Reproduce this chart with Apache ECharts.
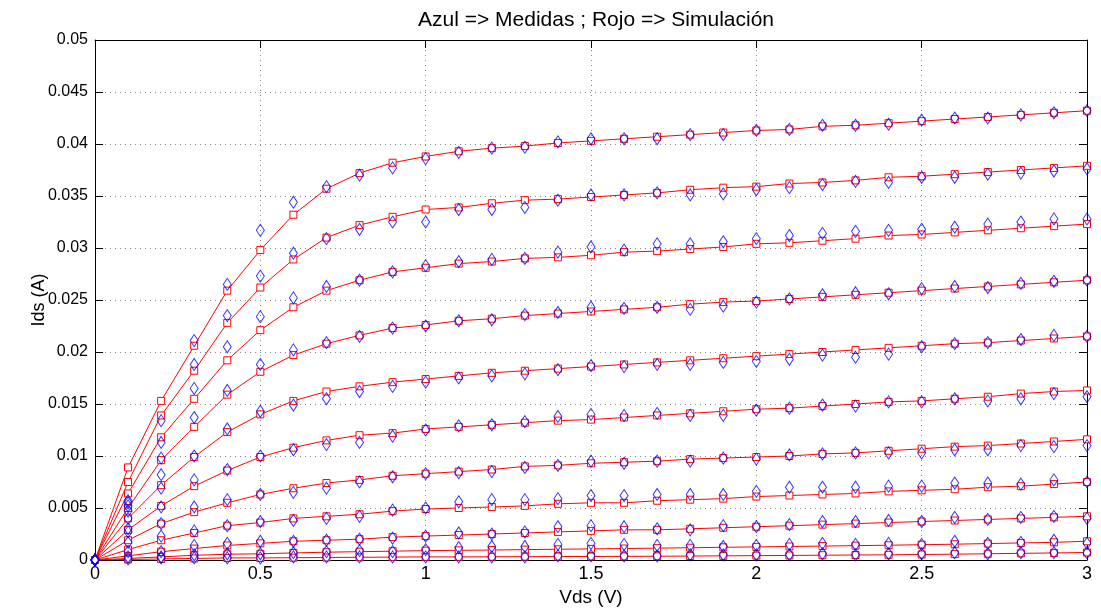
<!DOCTYPE html>
<html>
<head>
<meta charset="utf-8">
<script src="https://cdn.jsdelivr.net/npm/echarts@6/dist/echarts.min.js"></script>
<style>
  html, body { margin: 0; padding: 0; background: #fff; }
  #chart { width: 1101px; height: 615px; }
</style>
</head>
<body>
<div id="chart"></div>
<script>
// Drain-source voltage sweep (V)
var vds = [0, 0.1, 0.2, 0.3, 0.4, 0.5, 0.6, 0.7, 0.8, 0.9, 1.0, 1.1, 1.2, 1.3, 1.4, 1.5,
           1.6, 1.7, 1.8, 1.9, 2.0, 2.1, 2.2, 2.3, 2.4, 2.5, 2.6, 2.7, 2.8, 2.9, 3.0];

var xTicks = [0, 0.5, 1, 1.5, 2, 2.5, 3];
var yTickLabels = ['0', '0.005', '0.01', '0.015', '0.02', '0.025', '0.03', '0.035', '0.04', '0.045', '0.05'];

// Simulated Ids (A), one curve per gate voltage, highest first
var sim1 = [0, 0.0089, 0.0153, 0.0206, 0.0259, 0.0298, 0.0332, 0.0357, 0.0372, 0.0382, 0.0388, 0.0393, 0.0396, 0.0398, 0.0401, 0.0403, 0.0405, 0.0407, 0.0409, 0.0411, 0.0413, 0.0414, 0.0417, 0.0418, 0.0420, 0.0422, 0.0424, 0.0426, 0.0428, 0.0430, 0.0432];
var sim2 = [0, 0.0075, 0.0139, 0.0182, 0.0228, 0.0262, 0.0289, 0.0310, 0.0322, 0.0330, 0.0337, 0.0339, 0.0343, 0.0346, 0.0347, 0.0349, 0.0351, 0.0353, 0.0356, 0.0358, 0.0359, 0.0362, 0.0363, 0.0365, 0.0368, 0.0369, 0.0371, 0.0373, 0.0375, 0.0377, 0.0379];
var sim3 = [0, 0.0064, 0.0118, 0.0155, 0.0192, 0.0221, 0.0243, 0.0259, 0.0269, 0.0277, 0.0281, 0.0285, 0.0287, 0.0290, 0.0291, 0.0293, 0.0296, 0.0297, 0.0299, 0.0301, 0.0304, 0.0305, 0.0307, 0.0309, 0.0312, 0.0313, 0.0315, 0.0317, 0.0319, 0.0321, 0.0323];
var sim4 = [0, 0.0050, 0.0096, 0.0128, 0.0159, 0.0181, 0.0197, 0.0208, 0.0216, 0.0223, 0.0226, 0.0230, 0.0232, 0.0235, 0.0237, 0.0239, 0.0241, 0.0243, 0.0246, 0.0248, 0.0249, 0.0251, 0.0253, 0.0255, 0.0257, 0.0259, 0.0261, 0.0263, 0.0265, 0.0267, 0.0269];
var sim5 = [0, 0.0040, 0.0072, 0.0099, 0.0123, 0.0140, 0.0153, 0.0162, 0.0167, 0.0171, 0.0174, 0.0177, 0.0180, 0.0182, 0.0184, 0.0186, 0.0188, 0.0190, 0.0192, 0.0194, 0.0196, 0.0198, 0.0200, 0.0202, 0.0204, 0.0206, 0.0208, 0.0209, 0.0211, 0.0213, 0.0215];
var sim6 = [0, 0.0029, 0.0052, 0.0071, 0.0086, 0.0099, 0.0108, 0.0115, 0.0120, 0.0122, 0.0126, 0.0128, 0.0130, 0.0132, 0.0134, 0.0135, 0.0137, 0.0139, 0.0141, 0.0143, 0.0145, 0.0146, 0.0148, 0.0150, 0.0152, 0.0153, 0.0155, 0.0157, 0.0160, 0.0162, 0.0163];
var sim7 = [0, 0.0019, 0.0035, 0.0046, 0.0055, 0.0063, 0.0069, 0.0074, 0.0077, 0.0081, 0.0083, 0.0085, 0.0087, 0.0090, 0.0091, 0.0093, 0.0094, 0.0095, 0.0097, 0.0098, 0.0099, 0.0100, 0.0102, 0.0103, 0.0105, 0.0107, 0.0109, 0.0110, 0.0112, 0.0114, 0.0116];
var sim8 = [0, 0.0010, 0.0019, 0.0026, 0.0033, 0.0036, 0.0040, 0.0042, 0.0044, 0.0047, 0.0049, 0.0050, 0.0051, 0.0052, 0.0054, 0.0055, 0.0055, 0.0057, 0.0058, 0.0059, 0.0061, 0.0062, 0.0063, 0.0064, 0.0066, 0.0067, 0.0068, 0.0070, 0.0071, 0.0073, 0.0075];
var sim9 = [0, 0.0004, 0.0008, 0.0011, 0.0014, 0.0016, 0.0018, 0.0019, 0.0020, 0.0022, 0.0023, 0.0024, 0.0025, 0.0026, 0.0027, 0.0028, 0.0029, 0.0029, 0.0030, 0.0031, 0.0032, 0.0033, 0.0034, 0.0035, 0.0036, 0.0037, 0.0038, 0.0039, 0.0040, 0.0041, 0.0042];
var sim10 = [0, 0.00015, 0.0003, 0.00045, 0.00055, 0.0006, 0.00068, 0.00075, 0.0008, 0.00085, 0.0009, 0.00093, 0.00096, 0.0010, 0.00103, 0.00107, 0.0011, 0.00114, 0.00118, 0.00122, 0.00126, 0.0013, 0.00134, 0.00138, 0.00142, 0.00147, 0.00152, 0.00158, 0.00164, 0.0017, 0.0018];
var sim11 = [0, 0.00005, 0.0001, 0.00015, 0.0002, 0.0002, 0.00022, 0.00024, 0.00026, 0.00028, 0.0003, 0.0003, 0.00031, 0.00032, 0.00033, 0.00034, 0.00035, 0.00036, 0.00038, 0.0004, 0.00042, 0.00044, 0.00046, 0.00048, 0.0005, 0.00053, 0.00056, 0.0006, 0.00064, 0.00068, 0.00072];

// Measured Ids (A), same gate voltages
var meas1 = [0, 0.0057, 0.0134, 0.0211, 0.0265, 0.0317, 0.0344, 0.0359, 0.0370, 0.0377, 0.0386, 0.0392, 0.0396, 0.0397, 0.0402, 0.0405, 0.0405, 0.0405, 0.0409, 0.0409, 0.0413, 0.0414, 0.0418, 0.0418, 0.0419, 0.0423, 0.0425, 0.0425, 0.0428, 0.0430, 0.0432];
var meas2 = [0, 0.0055, 0.0113, 0.0188, 0.0235, 0.0273, 0.0295, 0.0309, 0.0318, 0.0325, 0.0325, 0.0337, 0.0337, 0.0339, 0.0346, 0.0351, 0.0351, 0.0353, 0.0351, 0.0352, 0.0356, 0.0358, 0.0361, 0.0364, 0.0363, 0.0368, 0.0368, 0.0371, 0.0372, 0.0374, 0.0376];
var meas3 = [0, 0.0052, 0.0098, 0.0165, 0.0205, 0.0234, 0.0252, 0.0263, 0.0269, 0.0277, 0.0283, 0.0287, 0.0289, 0.0290, 0.0296, 0.0301, 0.0298, 0.0304, 0.0304, 0.0306, 0.0309, 0.0312, 0.0314, 0.0316, 0.0317, 0.0318, 0.0320, 0.0323, 0.0325, 0.0328, 0.0328];
var meas4 = [0, 0.0047, 0.0082, 0.0137, 0.0163, 0.0188, 0.0202, 0.0209, 0.0215, 0.0223, 0.0225, 0.0230, 0.0231, 0.0236, 0.0238, 0.0243, 0.0242, 0.0243, 0.0241, 0.0244, 0.0248, 0.0251, 0.0255, 0.0257, 0.0256, 0.0261, 0.0263, 0.0262, 0.0266, 0.0268, 0.0269];
var meas5 = [0, 0.0040, 0.0069, 0.0100, 0.0126, 0.0143, 0.0149, 0.0155, 0.0162, 0.0167, 0.0171, 0.0175, 0.0177, 0.0179, 0.0183, 0.0187, 0.0186, 0.0188, 0.0188, 0.0190, 0.0191, 0.0193, 0.0197, 0.0195, 0.0198, 0.0205, 0.0208, 0.0209, 0.0212, 0.0216, 0.0215];
var meas6 = [0, 0.0030, 0.0051, 0.0077, 0.0087, 0.0100, 0.0106, 0.0111, 0.0113, 0.0119, 0.0125, 0.0129, 0.0130, 0.0133, 0.0138, 0.0140, 0.0139, 0.0141, 0.0139, 0.0139, 0.0144, 0.0146, 0.0149, 0.0148, 0.0152, 0.0152, 0.0155, 0.0153, 0.0155, 0.0160, 0.0157];
var meas7 = [0, 0.0027, 0.0035, 0.0051, 0.0058, 0.0063, 0.0065, 0.0069, 0.0075, 0.0080, 0.0083, 0.0084, 0.0085, 0.0089, 0.0091, 0.0095, 0.0093, 0.0095, 0.0095, 0.0098, 0.0097, 0.0101, 0.0102, 0.0103, 0.0103, 0.0103, 0.0106, 0.0106, 0.0110, 0.0109, 0.0110];
var meas8 = [0, 0.0017, 0.0023, 0.0028, 0.0033, 0.0037, 0.0038, 0.0040, 0.0042, 0.0048, 0.0050, 0.0056, 0.0058, 0.0058, 0.0059, 0.0062, 0.0062, 0.0063, 0.0063, 0.0063, 0.0066, 0.0070, 0.0070, 0.0070, 0.0071, 0.0071, 0.0074, 0.0074, 0.0073, 0.0077, 0.0075];
var meas9 = [0, 0.0008, 0.0008, 0.0014, 0.0016, 0.0018, 0.0018, 0.0019, 0.0020, 0.0021, 0.0023, 0.0026, 0.0025, 0.0027, 0.0032, 0.0033, 0.0032, 0.0030, 0.0029, 0.0033, 0.0032, 0.0034, 0.0037, 0.0037, 0.0038, 0.0037, 0.0041, 0.0039, 0.0041, 0.0042, 0.0040];
var meas10 = [0, 0.0003, 0.0003, 0.0005, 0.0006, 0.0006, 0.0007, 0.0008, 0.0009, 0.0008, 0.0010, 0.0012, 0.0013, 0.0013, 0.0015, 0.0016, 0.0015, 0.0014, 0.0014, 0.0013, 0.0014, 0.0015, 0.0016, 0.0015, 0.0016, 0.0015, 0.0018, 0.0016, 0.0017, 0.0019, 0.0016];
var meas11 = [0, 0.0001, 0.0002, 0.0002, 0.0002, 0.0002, 0.0003, 0.0003, 0.0003, 0.0003, 0.0003, 0.0003, 0.0003, 0.0003, 0.0004, 0.0004, 0.0004, 0.0004, 0.0005, 0.0005, 0.0005, 0.0005, 0.0006, 0.0005, 0.0006, 0.0006, 0.0007, 0.0006, 0.0007, 0.0007, 0.0007];

var simCurves = [sim1, sim2, sim3, sim4, sim5, sim6, sim7, sim8, sim9, sim10, sim11];
var measCurves = [meas1, meas2, meas3, meas4, meas5, meas6, meas7, meas8, meas9, meas10, meas11];

function pairs(values) {
  return values.map(function (v, i) { return [vds[i], v]; });
}

var FONT = 'Liberation Sans, Arial, Helvetica, sans-serif';
var series = [];

simCurves.forEach(function (c, k) {
  series.push({
    name: 'sim' + (k + 1),
    type: 'line',
    data: pairs(c),
    symbol: 'rect',
    symbolSize: 7,
    showAllSymbol: true,
    lineStyle: { color: '#ff0000', width: 1 },
    itemStyle: { color: '#ffffff', borderColor: '#ff0000', borderWidth: 1 },
    z: 2,
    silent: true,
    animation: false
  });
});

measCurves.forEach(function (c, k) {
  series.push({
    name: 'meas' + (k + 1),
    type: 'scatter',
    data: pairs(c),
    symbol: 'diamond',
    symbolSize: [8, 12],
    itemStyle: { color: 'rgba(0,0,0,0)', borderColor: '#0000ff', borderWidth: 1 },
    z: 3,
    silent: true,
    animation: false
  });
});

// Frame: bottom/left carry labels, top/right only ticks
var frameLine = { show: true, onZero: false, lineStyle: { color: '#000', width: 1 } };
var frameTick = { show: true, inside: true, length: 8, lineStyle: { color: '#000' } };
var gridDots = { show: true, lineStyle: { color: '#888', width: 1, type: [1, 4] } };

var chart = echarts.init(document.getElementById('chart'), null, { renderer: 'canvas' });
chart.setOption({
  animation: false,
  backgroundColor: '#ffffff',
  title: {
    text: 'Azul => Medidas ; Rojo => Simulación',
    left: 591,
    textAlign: 'center',
    top: 5,
    textStyle: { fontFamily: FONT, fontSize: 21, fontWeight: 'normal', color: '#000' }
  },
  grid: { left: 95, right: 14, top: 40, bottom: 55, containLabel: false },
  xAxis: [{
    type: 'value',
    min: 0, max: 3, interval: 0.5,
    name: 'Vds (V)',
    nameLocation: 'middle',
    nameGap: 28,
    nameMoveOverlap: false,
    nameTextStyle: { fontFamily: FONT, fontSize: 19, color: '#000' },
    axisLine: frameLine,
    axisTick: frameTick,
    axisLabel: {
      fontFamily: FONT, fontSize: 18, color: '#000', margin: 5,
      formatter: function (v) { var i = xTicks.indexOf(Math.round(v * 10) / 10); return i >= 0 ? String(xTicks[i]) : ''; }
    },
    splitLine: gridDots
  }, {
    type: 'value',
    position: 'top',
    min: 0, max: 3, interval: 0.5,
    axisLine: frameLine,
    axisTick: frameTick,
    axisLabel: { show: false },
    splitLine: { show: false }
  }],
  yAxis: [{
    type: 'value',
    min: 0, max: 0.05, interval: 0.005,
    name: 'Ids (A)',
    nameLocation: 'middle',
    nameGap: 47,
    nameMoveOverlap: false,
    nameTextStyle: { fontFamily: FONT, fontSize: 18, color: '#000' },
    axisLine: frameLine,
    axisTick: frameTick,
    axisLabel: {
      fontFamily: FONT, fontSize: 16, color: '#000', margin: 7,
      formatter: function (v) { return yTickLabels[Math.round(v / 0.005)]; }
    },
    splitLine: gridDots
  }, {
    type: 'value',
    position: 'right',
    min: 0, max: 0.05, interval: 0.005,
    axisLine: frameLine,
    axisTick: frameTick,
    axisLabel: { show: false },
    splitLine: { show: false }
  }],
  series: series
});
</script>
</body>
</html>
